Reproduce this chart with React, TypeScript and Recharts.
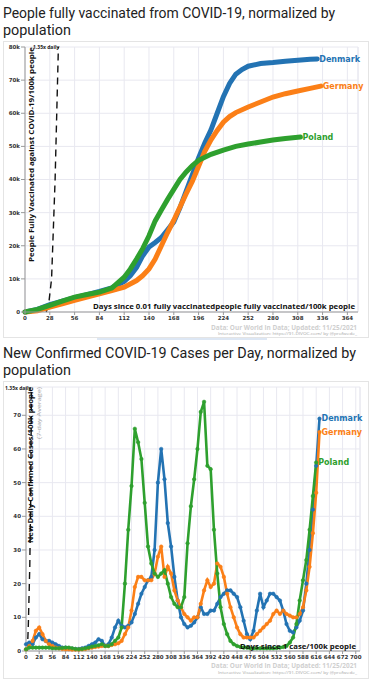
import React from 'react';
import { LineChart, Line, XAxis, YAxis, CartesianGrid, ReferenceLine } from 'recharts';

const DENMARK = '#2373b3';
const GERMANY = '#fb7f17';
const POLAND = '#2ea02e';
const GRID = '#e8e8f0';
const FONT_UI = 'Roboto, "Noto Sans", sans-serif';
const FONT_CHART = '"DejaVu Sans", Verdana, sans-serif';
const FONT_LABEL = '"Open Sans", "Liberation Sans", sans-serif';

// --- people fully vaccinated per 100k (values in thousands) ---
const vaxTicksX = [0, 28, 56, 84, 112, 140, 168, 196, 224, 252, 280, 308, 336, 364];
const vaxTicksY = [0, 10, 20, 30, 40, 50, 60, 70, 80];

const vaxDenmarkDays = [0, 14, 28, 42, 56, 70, 84, 98, 112, 119, 126, 133, 140, 147, 154, 161, 168, 175, 182, 189, 196, 203, 210, 217, 224, 231, 238, 245, 252, 266, 280, 294, 308, 322, 330];
const vaxDenmark = [0, 0.8, 2.2, 3.3, 4.3, 5.2, 6.2, 7.3, 9.2, 11, 13.5, 17, 19.6, 21, 22.5, 24.8, 27.2, 31.5, 36.5, 41.5, 46.5, 51, 55, 60, 65, 69, 71.8, 73.2, 74.2, 75, 75.3, 75.7, 76, 76.3, 76.4];

const vaxGermanyDays = [0, 14, 28, 42, 56, 70, 84, 98, 112, 126, 133, 140, 147, 154, 161, 168, 175, 182, 189, 196, 203, 210, 217, 224, 231, 238, 252, 266, 280, 294, 308, 322, 334];
const vaxGermany = [0, 0.4, 1.5, 2.5, 3.5, 4.5, 5.5, 6.5, 7.5, 9.5, 11, 13, 16, 20, 24, 27.7, 31.7, 35.7, 39.5, 44, 48.5, 52, 54.8, 57.3, 59, 60.2, 61.9, 63.4, 64.9, 65.9, 66.7, 67.5, 68.2];

const vaxPolandDays = [0, 14, 28, 42, 56, 70, 84, 98, 112, 119, 126, 133, 140, 147, 154, 161, 168, 175, 182, 189, 196, 210, 224, 238, 252, 266, 280, 294, 311];
const vaxPoland = [0, 0.8, 2, 3.3, 4.5, 5.3, 6, 7.2, 10.5, 13, 16, 19.2, 23, 27.5, 30.8, 34, 37, 40, 42.3, 44.2, 45.8, 47.6, 48.9, 50, 50.7, 51.3, 51.9, 52.4, 52.8];

const vaxGuideDays = [24, 27, 30, 34, 37.7];
const vaxGuide = [0, 3, 10, 40, 80];

// --- new confirmed cases per day per 100k (7-day average) ---
const caseTicksX = [0, 28, 56, 84, 112, 140, 168, 196, 224, 252, 280, 308, 336, 364, 392, 420, 448, 476, 504, 532, 560, 588, 616, 644, 672, 700];
const caseTicksY = [0, 10, 20, 30, 40, 50, 60, 70];

const caseDays = [0, 7, 14, 21, 28, 35, 42, 49, 56, 63, 70, 77, 84, 91, 98, 105, 112, 119, 126, 133, 140, 147, 154, 161, 168, 175, 182, 189, 196, 203, 210, 217, 224, 231, 238, 245, 252, 259, 266, 273, 280, 287, 294, 301, 308, 315, 322, 329, 336, 343, 350, 357, 364, 371, 378, 385, 392, 399, 406, 413, 420, 427, 434, 441, 448, 455, 462, 469, 476, 483, 490, 497, 504, 511, 518, 525, 532, 539, 546, 553, 560, 567, 574, 581, 588, 595, 602, 609, 616, 623];
const caseDenmark = [2, 2.5, 2, 4, 5, 3.5, 3, 3, 2.5, 2, 1.5, 1, 1, 0.8, 0.7, 0.6, 0.6, 0.8, 1, 1.5, 2, 2.5, 3.5, 3, 1.5, 2, 4, 7, 9, 7.5, 7, 7.5, 8.5, 11, 14, 17, 19, 21, 22, 30, 50, 60, 51, 38, 31, 22, 15, 10, 8, 7, 7.5, 8.5, 10, 13, 11, 11, 12, 12, 14, 16, 17, 18, 18, 17, 16, 13, 9, 5, 3.5, 6, 12, 17, 13, 15, 17, 17, 16, 15, 12, 8, 6, 5.5, 7, 9, 12, 20, 30, 42, 55, 69];
const caseGermany = [0.5, 1.5, 3, 6, 7, 5, 3, 2, 1.5, 1, 0.8, 0.6, 0.5, 0.5, 0.4, 0.4, 0.4, 0.5, 0.6, 0.8, 1, 1.2, 1.3, 1.5, 1.5, 1.5, 1.8, 2, 2.3, 3, 5, 7, 12, 19, 22, 22, 21, 21, 21, 23, 28, 31, 22, 25, 23, 18, 15, 13, 11, 10, 9, 10, 10, 14, 18, 21, 19, 20, 26, 25, 22, 17, 13, 10, 7, 5, 4, 4, 4, 4, 5, 6, 7, 8, 9, 11, 12, 11, 12, 11, 10.5, 10, 10, 11, 13, 18, 25, 35, 47, 65];
const casePoland = [0.5, 1, 1, 1, 1, 1, 1, 1, 0.8, 0.8, 0.8, 0.9, 1, 1, 0.8, 0.6, 0.5, 0.6, 0.8, 1, 1.3, 1.5, 1.7, 2, 1.5, 1.5, 2, 3, 4, 7, 20, 36, 49, 66, 62, 57, 44, 31, 26, 23, 22, 23, 24, 20, 16, 14, 13, 13, 16, 32, 43, 51, 60, 71, 74, 55, 54, 36, 23, 13, 8, 5, 3, 2, 1.5, 1.2, 1, 1, 0.8, 0.8, 0.8, 0.8, 0.8, 0.8, 0.8, 0.8, 0.9, 1, 1.2, 1.5, 2.5, 4, 8, 15, 21, 27, 36, 46, 56];

const caseGuideDays = [3, 5, 8, 10, 11.5];
const caseGuide = [0, 8, 25, 45, 78];

const toPoints = (days: number[], values: number[]) =>
  values.map((v, i) => ({ day: days[i], value: v }));

const tickStyle = { fontSize: 5.5, fill: '#333', fontWeight: 700, fontFamily: FONT_CHART };

const endLabel = (name: string, color: string, lastIndex: number) => (props: any) => {
  if (props.index !== lastIndex) return null;
  return (
    <text x={props.x + 2} y={props.y} dy="0.35em" fill={color} fontSize={8} fontWeight={700} fontFamily={FONT_CHART}>
      {name}
    </text>
  );
};

const caseDot = (color: string) => ({ r: 1.8, fill: color, stroke: color, strokeWidth: 0.5 });

const VaxChart = () => (
  <LineChart width={375} height={340} margin={{ top: 47, right: 17, left: 0, bottom: 0 }}>
    <CartesianGrid stroke={GRID} />
    <XAxis
      dataKey="day"
      type="number"
      domain={[0, 376]}
      ticks={vaxTicksX}
      interval={0}
      height={28}
      tick={tickStyle}
      tickSize={3}
      tickMargin={1}
      stroke="#999"
      allowDuplicatedCategory={false}
    />
    <YAxis
      dataKey="value"
      type="number"
      domain={[0, 80]}
      ticks={vaxTicksY}
      interval={0}
      width={25}
      tick={tickStyle}
      tickSize={4}
      tickMargin={1}
      stroke="#999"
      tickFormatter={(v: number) => (v === 0 ? '0' : `${v}k`)}
    />
    <ReferenceLine x={376} stroke={GRID} />
    <Line data={toPoints(vaxGuideDays, vaxGuide)} dataKey="value" stroke="#111" strokeWidth={1.4} strokeDasharray="7 5" dot={false} isAnimationActive={false} />
    <Line data={toPoints(vaxDenmarkDays, vaxDenmark)} dataKey="value" stroke={DENMARK} strokeWidth={5} strokeLinecap="round" dot={false} isAnimationActive={false}
      label={endLabel('Denmark', DENMARK, vaxDenmark.length - 1)} />
    <Line data={toPoints(vaxGermanyDays, vaxGermany)} dataKey="value" stroke={GERMANY} strokeWidth={5} strokeLinecap="round" dot={false} isAnimationActive={false}
      label={endLabel('Germany', GERMANY, vaxGermany.length - 1)} />
    <Line data={toPoints(vaxPolandDays, vaxPoland)} dataKey="value" stroke={POLAND} strokeWidth={5} strokeLinecap="round" dot={false} isAnimationActive={false}
      label={endLabel('Poland', POLAND, vaxPoland.length - 1)} />
  </LineChart>
);

const CasesChart = () => (
  <LineChart width={375} height={339} margin={{ top: 47, right: 15, left: 0, bottom: 0 }}>
    <CartesianGrid stroke={GRID} />
    <XAxis
      dataKey="day"
      type="number"
      domain={[0, 709]}
      ticks={caseTicksX}
      interval={0}
      height={28}
      tick={tickStyle}
      tickSize={3}
      tickMargin={1}
      stroke="#999"
      allowDuplicatedCategory={false}
    />
    <YAxis
      dataKey="value"
      type="number"
      domain={[0, 78.4]}
      ticks={caseTicksY}
      interval={0}
      width={26}
      tick={tickStyle}
      tickSize={4}
      tickMargin={1}
      stroke="#999"
    />
    <ReferenceLine x={709} stroke={GRID} />
    <Line data={toPoints(caseGuideDays, caseGuide)} dataKey="value" stroke="#111" strokeWidth={1.4} strokeDasharray="7 5" dot={false} isAnimationActive={false} />
    <Line data={toPoints(caseDays, caseDenmark)} dataKey="value" stroke={DENMARK} strokeWidth={2.6} dot={caseDot(DENMARK)} isAnimationActive={false}
      label={endLabel('Denmark', DENMARK, caseDenmark.length - 1)} />
    <Line data={toPoints(caseDays, caseGermany)} dataKey="value" stroke={GERMANY} strokeWidth={2.6} dot={caseDot(GERMANY)} isAnimationActive={false}
      label={endLabel('Germany', GERMANY, caseGermany.length - 1)} />
    <Line data={toPoints(caseDays, casePoland)} dataKey="value" stroke={POLAND} strokeWidth={2.6} dot={caseDot(POLAND)} isAnimationActive={false}
      label={endLabel('Poland', POLAND, casePoland.length - 1)} />
  </LineChart>
);

const Card = ({ top, height }: { top: number; height: number }) => (
  <div style={{ position: 'absolute', left: 3, top, width: 366, height, border: '1px solid #e4e4e4', boxSizing: 'border-box', background: '#fff' }} />
);

const Overlay = () => (
  <svg width={375} height={680} style={{ position: 'absolute', left: 0, top: 0, pointerEvents: 'none' }}>
    {/* titles */}
    <g fontFamily={FONT_UI} fill="#222" fontSize={14.6}>
      <text x={3} y={18} textLength={332} lengthAdjust="spacingAndGlyphs">People fully vaccinated from COVID-19, normalized by</text>
      <text x={3} y={35} textLength={68} lengthAdjust="spacingAndGlyphs">population</text>
      <text x={3} y={357.5} textLength={353} lengthAdjust="spacingAndGlyphs">New Confirmed COVID-19 Cases per Day, normalized by</text>
      <text x={3} y={374.5} textLength={68} lengthAdjust="spacingAndGlyphs">population</text>
    </g>

    {/* vaccination chart annotations */}
    <g fontFamily={FONT_LABEL} fontWeight={700}>
      <text x={33} y={49} fontSize={5} fill="#222">1.35x daily</text>
      <text transform="translate(33.5,47) rotate(-90)" textAnchor="end" fontSize={7.6} fill="#111" textLength={215} lengthAdjust="spacingAndGlyphs">
        People Fully Vaccinated against COVID-19/100k people
      </text>
      <text x={355} y={309} textAnchor="end" fontSize={7.3} fill="#111" textLength={262} lengthAdjust="spacingAndGlyphs">
        Days since 0.01 fully vaccinatedpeople fully vaccinated/100k people
      </text>
      <text x={357} y={329.5} textAnchor="end" fontSize={6.2} fill="#cfcfcf" textLength={146} lengthAdjust="spacingAndGlyphs">
        Data: Our World in Data; Updated: 11/25/2021
      </text>
      <text x={357} y={335} textAnchor="end" fontSize={4} fill="#a8a8a8" fontWeight={400} textLength={139} lengthAdjust="spacingAndGlyphs">
        Interactive Visualization: https://91-DIVOC.com/ by @profwede_
      </text>
    </g>

    {/* cases chart annotations */}
    <g fontFamily={FONT_LABEL} fontWeight={700}>
      <text x={5} y={389.5} fontSize={5} fill="#222">1.35x daily</text>
      <text transform="translate(33,387) rotate(-90)" textAnchor="end" fontSize={7.4} fill="#111" textLength={156} lengthAdjust="spacingAndGlyphs">
        New Daily Confirmed Cases/100k people
      </text>
      <text transform="translate(40.5,387) rotate(-90)" textAnchor="end" fontSize={5.6} fill="#aaa" fontWeight={400} textLength={52} lengthAdjust="spacingAndGlyphs">
        (7-day Average)
      </text>
      <text x={356} y={648.5} textAnchor="end" fontSize={7.2} fill="#111" textLength={116} lengthAdjust="spacingAndGlyphs">
        Days since 1 case/100k people
      </text>
      <text x={357} y={667.5} textAnchor="end" fontSize={6.2} fill="#cfcfcf" textLength={146} lengthAdjust="spacingAndGlyphs">
        Data: Our World in Data; Updated: 11/25/2021
      </text>
      <text x={357} y={673.5} textAnchor="end" fontSize={4} fill="#a8a8a8" fontWeight={400} textLength={139} lengthAdjust="spacingAndGlyphs">
        Interactive Visualization: https://91-DIVOC.com/ by @profwede_
      </text>
    </g>
  </svg>
);

export default function App() {
  return (
    <div style={{ position: 'absolute', left: 0, top: 0, width: 375, height: 680, background: '#fff', overflow: 'hidden' }}>
      <Card top={41} height={297} />
      <div style={{ position: 'absolute', left: 97, top: 338, width: 170, height: 2, background: '#dde7f4' }} />
      <Card top={381} height={298} />
      <div style={{ position: 'absolute', left: 0, top: 0 }}>
        <VaxChart />
      </div>
      <div style={{ position: 'absolute', left: 0, top: 340 }}>
        <CasesChart />
      </div>
      <Overlay />
    </div>
  );
}
